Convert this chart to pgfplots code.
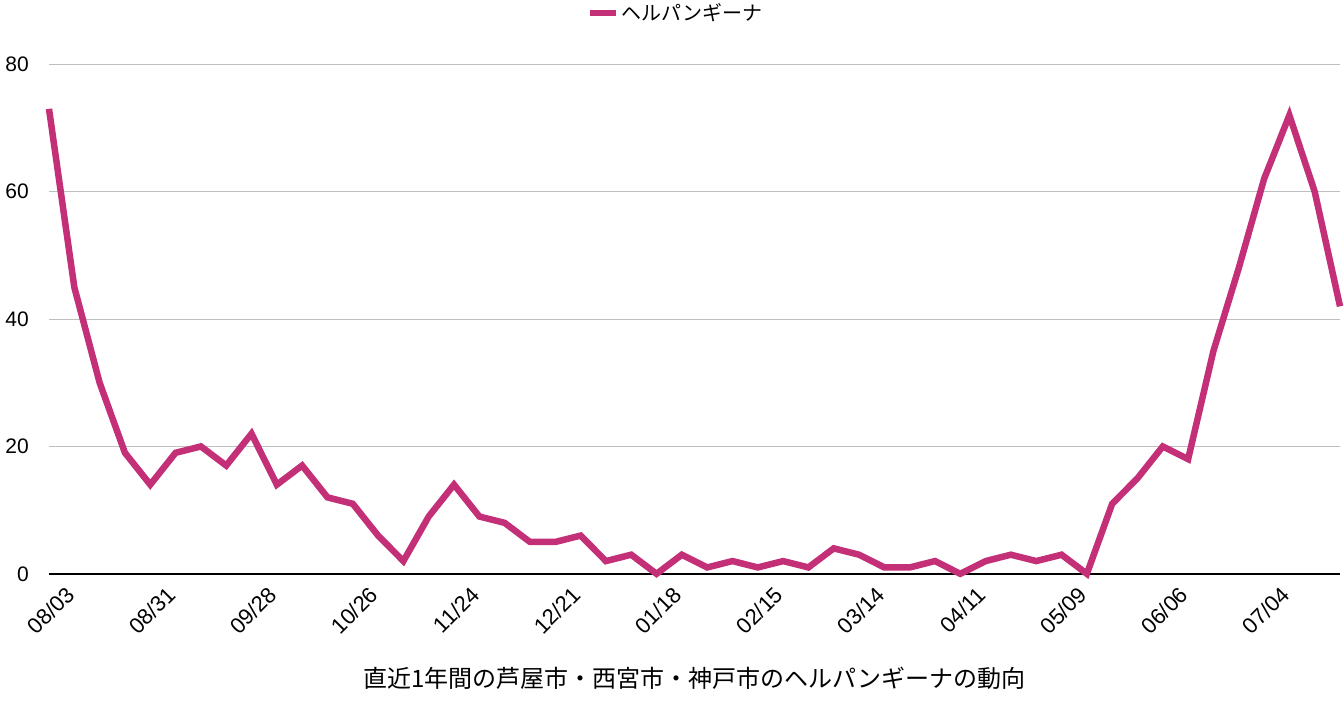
\documentclass[border=0pt]{standalone}
\usepackage{fontspec}
\setmainfont{Noto Sans CJK JP}
\newfontfamily\tickfont{Liberation Sans}
\usepackage{pgfplots}
\pgfplotsset{compat=1.18}
\definecolor{hp}{RGB}{196,48,120}
\definecolor{gridgray}{RGB}{190,190,190}
\begin{document}
\begin{tikzpicture}
\begin{axis}[
  set layers,
  scale only axis, width=1291pt, height=509.5pt,
  xmin=0, xmax=51, ymin=0, ymax=80,
  axis x line*=bottom, axis y line*=left,
  x axis line style={black, line width=1.8pt, -},
  y axis line style={draw=none},
  tick style={draw=none},
  ytick={0,20,40,60,80},
  ymajorgrids, grid style={gridgray, line width=0.8pt},
  xtick={1,5,9,13,17,21,25,29,33,37,41,45,49},
  xticklabels={08/03,08/31,09/28,10/26,11/24,12/21,01/18,02/15,03/14,04/11,05/09,06/06,07/04},
  /pgf/number format/assume math mode=true,
  yticklabel style={font=\tickfont\fontsize{21}{23}\selectfont, anchor=east, inner sep=0pt, xshift=-20pt},
  xticklabel style={font=\tickfont\fontsize{22}{24}\selectfont, xshift=-4pt, yshift=-17pt, rotate=45, anchor=east, inner sep=0pt},
  xlabel={直近1年間の芦屋市・西宮市・神戸市のヘルパンギーナの動向},
  every axis x label/.style={at={(axis description cs:0.5,0)}, anchor=center, yshift=-104pt, font=\fontsize{24}{27}\selectfont},
  legend style={at={(0.5,1)}, anchor=south, xshift=-19pt, yshift=38pt, draw=none, fill=none, font=\fontsize{20}{23}\selectfont},
  legend image code/.code={\draw[line width=4pt, hp] (8pt,0pt) -- (25pt,0pt);\path (0pt,0pt) -- (26pt,0pt);},
  clip=false,
]
\addplot[hp, line width=6.5pt, mark=none] coordinates {
(0,73) (1,45) (2,30) (3,19) (4,14) (5,19) (6,20) (7,17) (8,22) (9,14)
(10,17) (11,12) (12,11) (13,6) (14,2) (15,9) (16,14) (17,9) (18,8) (19,5)
(20,5) (21,6) (22,2) (23,3) (24,0) (25,3) (26,1) (27,2) (28,1) (29,2)
(30,1) (31,4) (32,3) (33,1) (34,1) (35,2) (36,0) (37,2) (38,3) (39,2)
(40,3) (41,0) (42,11) (43,15) (44,20) (45,18) (46,35) (47,48) (48,62) (49,72)
(50,60) (51,42)
};
\addlegendentry{ヘルパンギーナ}
\end{axis}
\pgfresetboundingbox
\path[use as bounding box] ([shift={(-49pt,-128.5pt)}]current axis.south west) rectangle ([shift={(4pt,64.3pt)}]current axis.north east);
\end{tikzpicture}
\end{document}
